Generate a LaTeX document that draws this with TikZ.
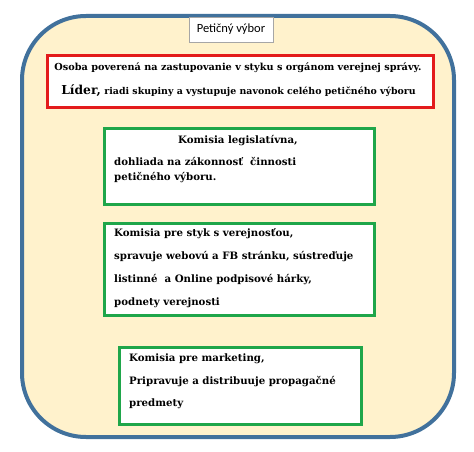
\documentclass[tikz,border=0pt]{standalone}
\usepackage{fontspec}
\setmainfont{DejaVu Serif}
\newfontfamily\titlefont{Carlito}
\usetikzlibrary{positioning}
\definecolor{frameblue}{HTML}{41719C}
\definecolor{cream}{HTML}{FFF2CC}
\definecolor{boxred}{HTML}{E31B1B}
\definecolor{boxgreen}{HTML}{1FA64A}

\begin{document}
\begin{tikzpicture}[x=1pt,y=-1pt,font=\bfseries\fontsize{10.2}{12}\selectfont,
  box/.style={draw=#1,line width=3pt,fill=white,anchor=north west,inner sep=0pt},
  txt/.style={anchor=base west,inner sep=0pt}]
  \useasboundingbox (0,0) rectangle (474,452);
  % outer frame
  \draw[frameblue,line width=4pt,fill=cream,rounded corners=64pt] (22,16) rectangle (454,437);
  \node[draw=black!35,line width=0.6pt,fill=white,minimum width=84,minimum height=25,
    inner sep=0pt,font=\titlefont\fontsize{12.5}{14}\selectfont] (title) at (231,29.5) {Petičný výbor};
  % leader
  \node[box=boxred,minimum width=386,minimum height=52] (leader) at (46,54) {};
  \node[anchor=base,inner sep=0pt,font=\bfseries\fontsize{9.7}{12}\selectfont] (leaderA) at (238,70.5) {Osoba poverená na zastupovanie v styku s orgánom verejnej správy.};
  \node[anchor=base,inner sep=0pt] (leaderB) at (238.5,94) {{\fontsize{12.3}{14}\selectfont Líder,} {\fontsize{9.4}{11}\selectfont riadi skupiny a vystupuje navonok celého petičného výboru}};
  % komisie
  \node[box=boxgreen,minimum width=270,minimum height=76] (legis) at (103,127) {};
  \node[anchor=base,inner sep=0pt] (legisA) at (238,143) {Komisia legislatívna,};
  \node[txt] (legisB) at (114,165.5) {dohliada na zákonnosť\ \ činnosti};
  \node[txt] (legisC) at (114,180.5) {petičného výboru.};
  \node[box=boxgreen,minimum width=270,minimum height=92] (public) at (103,222) {};
  \foreach \y/\t [count=\i] in {236.5/{Komisia pre styk s verejnosťou,},
      259.5/{spravuje webovú a FB stránku, sústreďuje},
      282.5/{listinné\ \ a Online podpisové hárky,},
      305.5/{podnety verejnosti}}
    \node[txt] (public\i) at (114,\y) {\t};
  \node[box=boxgreen,minimum width=242,minimum height=77] (market) at (118,346) {};
  \foreach \y/\t [count=\i] in {361/{Komisia pre marketing,},
      384/{Pripravuje a distribuuje propagačné},
      406/{predmety}}
    \node[txt] (market\i) at (129,\y) {\t};
\end{tikzpicture}
\end{document}
